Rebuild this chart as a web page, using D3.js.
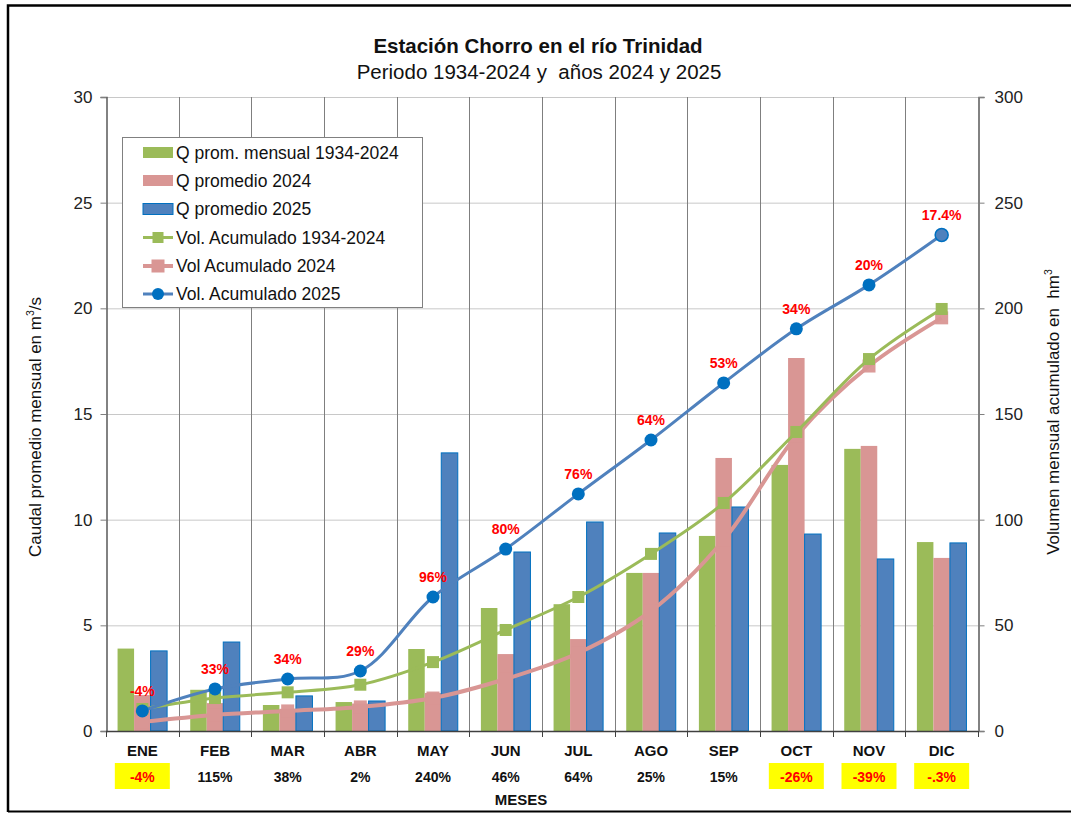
<!DOCTYPE html>
<html>
<head>
<meta charset="utf-8">
<script src="https://cdn.jsdelivr.net/npm/d3@7"></script>
<style>
  html, body { margin: 0; padding: 0; background: #fff; }
  svg { display: block; font-family: "Liberation Sans", Arial, sans-serif; }
</style>
</head>
<body>
<svg id="chart" width="1071" height="813"></svg>
<script>
// ---------- DATA ----------
const months = ["ENE","FEB","MAR","ABR","MAY","JUN","JUL","AGO","SEP","OCT","NOV","DIC"];
const qHist  = [3.9, 1.95, 1.23, 1.37, 3.88, 5.82, 6.0, 7.48, 9.23, 12.59, 13.35, 8.94];
const q2024  = [1.7, 1.32, 1.05, 1.3, 1.8, 3.64, 4.35, 7.48, 12.92, 17.65, 13.49, 8.19];
const q2025  = [3.79, 4.21, 1.66, 1.42, 13.16, 8.47, 9.89, 9.37, 10.6, 9.32, 8.14, 8.9];
const volHist = [10.4, 15.6, 18.3, 21.9, 32.6, 47.8, 63.4, 83.8, 107.9, 141.5, 176.0, 199.7];
const vol2024 = [4.3, 7.6, 9.5, 11.4, 15.6, 24.6, 36.9, 56.8, 90.4, 139.6, 172.7, 195.5];
const vol2025 = [9.5, 19.9, 24.6, 28.4, 63.4, 86.1, 112.2, 137.7, 164.7, 190.3, 211.1, 234.7];
const pointLabels = ["-4%","33%","34%","29%","96%","80%","76%","64%","53%","34%","20%","17.4%"];
const monthPct = ["-4%","115%","38%","2%","240%","46%","64%","25%","15%","-26%","-39%","-.3%"];
const monthPctHighlight = [true,false,false,false,false,false,false,false,false,true,true,true];
const leftTicks = [0,5,10,15,20,25,30];
const rightTicks = [0,50,100,150,200,250,300];
const barSeries = ["Q prom. mensual 1934-2024","Q promedio 2024","Q promedio 2025"];
const lineSeries = ["Vol. Acumulado 1934-2024","Vol Acumulado 2024","Vol. Acumulado 2025"];

// ---------- STYLE ----------
const cGreen = "#9BBB59", cPink = "#D99694", cBlue = "#4F81BD", cBlueDark = "#0070C0";
const margin = {left: 106, right: 978, top: 97, bottom: 731};

const svg = d3.select("#chart");

// outer frame
svg.append("path")
  .attr("d", "M8,812 L8,5.5 L1071,5.5")
  .attr("fill","none").attr("stroke","#000").attr("stroke-width",2.5);
svg.append("line").attr("x1",8).attr("x2",1071).attr("y1",811.5).attr("y2",811.5)
  .attr("stroke","#000").attr("stroke-width",2);

// scales
const x = d3.scaleBand().domain(months).range([margin.left, margin.right]).padding(0);
const xi = d3.scaleBand().domain(barSeries).range([0, x.bandwidth()]).paddingInner(0).paddingOuter(0.7);
const yL = d3.scaleLinear().domain([0,30]).range([margin.bottom, margin.top]);
const yR = d3.scaleLinear().domain([0,300]).range([margin.bottom, margin.top]);

// horizontal grid
svg.append("g").selectAll("line").data(leftTicks.slice(1)).join("line")
  .attr("x1", margin.left).attr("x2", margin.right)
  .attr("y1", d => yL(d)+0.5).attr("y2", d => yL(d)+0.5)
  .attr("stroke", "#C8C8C8").attr("stroke-width", 1);

// vertical grid at category boundaries
svg.append("g").selectAll("line").data(months.slice(1)).join("line")
  .attr("x1", d => Math.round(x(d))+0.5).attr("x2", d => Math.round(x(d))+0.5)
  .attr("y1", margin.top).attr("y2", margin.bottom)
  .attr("stroke", "#7F7F7F").attr("stroke-width", 1);

// bars
const barData = [qHist, q2024, q2025];
const barFill = [cGreen, cPink, cBlue];
barSeries.forEach((s, si) => {
  svg.append("g").selectAll("rect").data(months).join("rect")
    .attr("x", d => x(d) + xi(s))
    .attr("y", (d,i) => yL(barData[si][i]))
    .attr("width", xi.bandwidth())
    .attr("height", (d,i) => yL(0) - yL(barData[si][i]))
    .attr("fill", barFill[si])
    .attr("stroke", si === 2 ? cBlueDark : "none")
    .attr("stroke-width", si === 2 ? 1 : 0);
});

// axes
const axisLeft = d3.axisLeft(yL).tickValues(leftTicks).tickSize(6).tickPadding(8);
const gL = svg.append("g").attr("transform", `translate(${margin.left+0.5},0)`).call(axisLeft);
const axisRight = d3.axisRight(yR).tickValues(rightTicks).tickSize(6).tickPadding(10);
const gR = svg.append("g").attr("transform", `translate(${margin.right+0.5},0)`).call(axisRight);
[gL, gR].forEach(g => {
  g.select(".domain").attr("stroke", "#595959").attr("stroke-width", 1.5);
  g.selectAll(".tick line").attr("stroke", "#7F7F7F");
  g.selectAll(".tick text").attr("font-size", 17).attr("fill", "#222")
    .attr("font-family", "Liberation Sans, Arial, sans-serif");
});

// x axis baseline + ticks at boundaries
svg.append("line").attr("x1", margin.left).attr("x2", margin.right)
  .attr("y1", margin.bottom+0.5).attr("y2", margin.bottom+0.5)
  .attr("stroke", "#404040").attr("stroke-width", 1.5);
svg.append("g").selectAll("line").data(months).join("line")
  .attr("x1", d => Math.round(x(d))+0.5).attr("x2", d => Math.round(x(d))+0.5)
  .attr("y1", margin.bottom).attr("y2", margin.bottom+6)
  .attr("stroke", "#404040");
svg.append("line").attr("x1", margin.right+0.5).attr("x2", margin.right+0.5)
  .attr("y1", margin.bottom).attr("y2", margin.bottom+6).attr("stroke", "#404040");

// month labels
svg.append("g").selectAll("text").data(months).join("text")
  .attr("x", d => x(d) + x.bandwidth()/2)
  .attr("y", 756)
  .attr("text-anchor", "middle")
  .attr("font-size", 15).attr("font-weight", "bold").attr("fill", "#111")
  .text(d => d);

// bottom percentage row
const pctG = svg.append("g");
months.forEach((m, i) => {
  const cx = x(m) + x.bandwidth()/2;
  if (monthPctHighlight[i]) {
    pctG.append("rect").attr("x", cx - 27.5).attr("y", 763).attr("width", 55).attr("height", 26)
      .attr("fill", "#FFFF00");
  }
  pctG.append("text").attr("x", cx).attr("y", 782)
    .attr("text-anchor", "middle").attr("font-size", 14).attr("font-weight", "bold")
    .attr("fill", monthPctHighlight[i] ? "#FF0000" : "#111")
    .text(monthPct[i]);
});

svg.append("text").attr("x", 521).attr("y", 805).attr("text-anchor", "middle")
  .attr("font-size", 15).attr("font-weight", "bold").attr("fill", "#111").text("MESES");

// lines
const cx = d => x(d) + x.bandwidth()/2;
const lineGen = vals => d3.line().x((d) => cx(d)).y((d,i) => yR(vals[i])).curve(d3.curveCatmullRom.alpha(0.5))(months);

// pink cumulative
svg.append("path").attr("d", lineGen(vol2024)).attr("fill","none").attr("stroke", cPink).attr("stroke-width", 4);
svg.append("g").selectAll("rect").data(months).join("rect")
  .attr("x", (d) => cx(d) - 6.5).attr("y", (d,i) => yR(vol2024[i]) - 6.5)
  .attr("width", 13).attr("height", 13).attr("fill", cPink).attr("opacity", 0.95);

// green cumulative
svg.append("path").attr("d", lineGen(volHist)).attr("fill","none").attr("stroke", cGreen).attr("stroke-width", 3);
svg.append("g").selectAll("rect").data(months).join("rect")
  .attr("x", (d) => cx(d) - 6).attr("y", (d,i) => yR(volHist[i]) - 6)
  .attr("width", 12).attr("height", 12).attr("fill", cGreen);

// blue cumulative
svg.append("path").attr("d", lineGen(vol2025)).attr("fill","none").attr("stroke", cBlue).attr("stroke-width", 3);
svg.append("g").selectAll("circle").data(months).join("circle")
  .attr("cx", (d) => cx(d)).attr("cy", (d,i) => yR(vol2025[i]))
  .attr("r", 6.5)
  .attr("fill", (d,i) => i === 11 ? cBlue : cBlueDark)
  .attr("stroke", (d,i) => i === 11 ? cBlueDark : "none").attr("stroke-width", 1.5);

// point labels
svg.append("g").selectAll("text").data(months).join("text")
  .attr("x", (d) => cx(d)).attr("y", (d,i) => yR(vol2025[i]) - 15)
  .attr("text-anchor", "middle").attr("font-size", 14).attr("font-weight", "bold")
  .attr("fill", "#FF0000")
  .text((d,i) => pointLabels[i]);

// titles
svg.append("text").attr("x", 538).attr("y", 53).attr("text-anchor","middle")
  .attr("font-size", 20.5).attr("font-weight","bold").attr("fill","#111")
  .text("Estación Chorro en el río Trinidad");
svg.append("text").attr("x", 539).attr("y", 79).attr("text-anchor","middle")
  .attr("font-size", 20.5).attr("fill","#111").attr("xml:space","preserve")
  .text("Periodo 1934-2024 y  años 2024 y 2025");

// axis titles
const lt = svg.append("text").attr("transform", "translate(41,427) rotate(-90)")
  .attr("text-anchor","middle").attr("font-size", 17).attr("fill","#111");
lt.append("tspan").text("Caudal promedio mensual en m");
lt.append("tspan").attr("font-size", 10.5).attr("dy", -7).text("3");
lt.append("tspan").attr("dy", 7).text("/s");

const rt = svg.append("text").attr("transform", "translate(1059,412) rotate(-90)")
  .attr("text-anchor","middle").attr("font-size", 17).attr("fill","#111").attr("xml:space","preserve");
rt.append("tspan").text("Volumen mensual acumulado en  hm");
rt.append("tspan").attr("font-size", 10.5).attr("dy", -7).text("3");

// legend
const lg = svg.append("g");
lg.append("rect").attr("x", 122.5).attr("y", 137.5).attr("width", 300).attr("height", 170)
  .attr("fill", "#fff").attr("stroke", "#808080").attr("stroke-width", 1);
const legRows = [152.5, 180.5, 209, 237.5, 266, 294];
barSeries.forEach((s, i) => {
  lg.append("rect").attr("x", 143).attr("y", legRows[i] - 5.5).attr("width", 30).attr("height", 11)
    .attr("fill", barFill[i]).attr("stroke", i === 2 ? cBlueDark : "none");
  lg.append("text").attr("x", 176).attr("y", legRows[i] + 6).attr("font-size", 17.5).attr("fill","#111").text(s);
});
const lineCol = [cGreen, cPink, cBlue];
lineSeries.forEach((s, j) => {
  const yy = legRows[j+3];
  lg.append("line").attr("x1", 143).attr("x2", 173).attr("y1", yy).attr("y2", yy)
    .attr("stroke", lineCol[j]).attr("stroke-width", j === 1 ? 4 : 3);
  if (j === 2) {
    lg.append("circle").attr("cx", 158).attr("cy", yy).attr("r", 6).attr("fill", cBlueDark);
  } else {
    const sz = j === 1 ? 13 : 11;
    lg.append("rect").attr("x", 158 - sz/2).attr("y", yy - sz/2).attr("width", sz).attr("height", sz)
      .attr("fill", lineCol[j]);
  }
  lg.append("text").attr("x", 176).attr("y", yy + 6).attr("font-size", 17.5).attr("fill","#111").text(s);
});
</script>
</body>
</html>
